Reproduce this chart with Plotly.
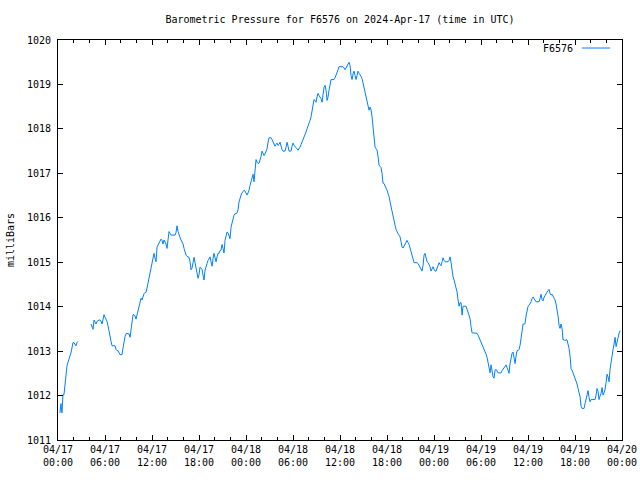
import plotly.graph_objects as go
from datetime import datetime, timedelta

TITLE = "Barometric Pressure for F6576 on 2024-Apr-17 (time in UTC)"
SERIES_NAME = "F6576"
Y_LABEL = "milliBars"
X_START = "2024-04-17 00:00"
X_END = "2024-04-20 00:00"
X_TICK_LABELS = ["04/17<br>00:00", "04/17<br>06:00", "04/17<br>12:00", "04/17<br>18:00",
                 "04/18<br>00:00", "04/18<br>06:00", "04/18<br>12:00", "04/18<br>18:00",
                 "04/19<br>00:00", "04/19<br>06:00", "04/19<br>12:00", "04/19<br>18:00",
                 "04/20<br>00:00"]
Y_TICKS = [1011, 1012, 1013, 1014, 1015, 1016, 1017, 1018, 1019, 1020]

# sampling interval of the station (minutes)
SAMPLE_MINUTES = 7.66

seg1_start = "2024-04-17 00:15"
seg1_values = [1011.61, 1011.82, 1011.61, 1012.02, 1012.02, 1012.28, 1012.47, 1012.66, 1012.75, 1012.81,
               1012.88, 1012.96, 1013.07, 1013.19, 1013.19, 1013.14, 1013.12, 1013.19, 1013.22]

seg2_start = "2024-04-17 04:13"
seg2_values = [
    1013.61, 1013.55, 1013.49, 1013.70, 1013.63, 1013.61, 1013.67, 1013.69, 1013.70, 1013.70,
    1013.68, 1013.61, 1013.74, 1013.82, 1013.76, 1013.72, 1013.67, 1013.57, 1013.48, 1013.34,
    1013.22, 1013.12, 1013.12, 1013.12, 1013.12, 1013.04, 1013.01, 1013.01, 1012.97, 1012.92,
    1012.92, 1012.92, 1013.07, 1013.22, 1013.33, 1013.39, 1013.40, 1013.39, 1013.39, 1013.31,
    1013.48, 1013.70, 1013.82, 1013.82, 1013.79, 1013.72, 1013.82, 1013.94, 1013.99, 1014.14,
    1014.19, 1014.15, 1014.23, 1014.29, 1014.32, 1014.32, 1014.42, 1014.53, 1014.64, 1014.75,
    1014.87, 1015.04, 1015.16, 1015.20, 1015.09, 1015.01, 1015.34, 1015.39, 1015.43, 1015.46,
    1015.52, 1015.49, 1015.41, 1015.50, 1015.46, 1015.41, 1015.31, 1015.50, 1015.69, 1015.65,
    1015.61, 1015.61, 1015.61, 1015.61, 1015.61, 1015.67, 1015.82, 1015.69, 1015.59, 1015.56,
    1015.50, 1015.46, 1015.41, 1015.31, 1015.22, 1015.16, 1015.13, 1015.11, 1015.11, 1015.01,
    1014.83, 1014.87, 1014.98, 1015.11, 1014.99, 1014.87, 1014.75, 1014.64, 1014.72,
    1014.89, 1014.86, 1014.84, 1014.71, 1014.60, 1014.82, 1014.93, 1014.97, 1015.04, 1015.08,
    1015.12, 1015.01, 1014.91, 1015.08, 1015.20, 1015.10, 1015.01, 1015.12, 1015.20, 1015.20,
    1015.26, 1015.27, 1015.40, 1015.31, 1015.21, 1015.49, 1015.64, 1015.68, 1015.66, 1015.61,
    1015.53, 1015.79, 1015.91, 1015.98, 1016.06, 1016.09, 1016.09, 1016.11, 1016.18, 1016.36,
    1016.45, 1016.51, 1016.56, 1016.60, 1016.62, 1016.60, 1016.56, 1016.51, 1016.56, 1016.62,
    1016.73, 1016.84, 1016.93, 1016.98, 1016.81, 1017.18, 1017.31, 1017.25, 1017.22, 1017.23,
    1017.29, 1017.38, 1017.50, 1017.43, 1017.40, 1017.44, 1017.48, 1017.55, 1017.70, 1017.80,
    1017.80, 1017.80, 1017.76, 1017.70, 1017.63, 1017.61, 1017.65, 1017.68, 1017.63, 1017.65,
    1017.70, 1017.59, 1017.53, 1017.50, 1017.50, 1017.50, 1017.59, 1017.70, 1017.61, 1017.50,
    1017.50, 1017.50, 1017.61, 1017.68, 1017.63, 1017.61, 1017.58, 1017.55, 1017.52, 1017.55,
    1017.59, 1017.65, 1017.70, 1017.76, 1017.80, 1017.88, 1017.93, 1018.00, 1018.06, 1018.10,
    1018.19, 1018.27, 1018.38, 1018.53, 1018.66, 1018.64, 1018.60, 1018.72, 1018.80, 1018.75,
    1018.72, 1018.68, 1018.60, 1018.79, 1018.94, 1018.98, 1018.87, 1018.64, 1018.72, 1018.87,
    1019.02, 1019.11, 1019.11, 1019.11, 1019.11, 1019.15, 1019.20, 1019.28, 1019.33, 1019.40,
    1019.40, 1019.40, 1019.40, 1019.40, 1019.37, 1019.33, 1019.37, 1019.43, 1019.46, 1019.50,
    1019.43, 1019.20, 1019.11, 1019.24, 1019.30, 1019.20, 1019.11, 1019.20, 1019.30, 1019.25,
    1019.22, 1019.18, 1019.13, 1019.02, 1018.90, 1018.83, 1018.75, 1018.62, 1018.49, 1018.42,
    1018.49, 1018.43, 1018.27, 1017.97, 1017.73, 1017.59, 1017.55, 1017.53, 1017.37, 1017.18,
    1017.16, 1017.13, 1016.99, 1016.78, 1016.77, 1016.73, 1016.69, 1016.62, 1016.54, 1016.48,
    1016.36, 1016.24, 1016.17, 1016.06, 1015.94, 1015.83, 1015.74, 1015.68, 1015.64, 1015.61,
    1015.57, 1015.46, 1015.34, 1015.32, 1015.37, 1015.42, 1015.46, 1015.49, 1015.44, 1015.40,
    1015.32, 1015.23, 1015.12, 1015.04, 1014.99, 1014.99, 1014.99, 1014.99, 1014.97, 1014.92,
    1014.87, 1014.84, 1014.80, 1014.93, 1015.16, 1015.20, 1015.10, 1015.01, 1014.99, 1014.95,
    1014.90, 1014.80, 1014.84, 1014.90, 1014.84, 1014.80, 1014.80, 1014.86, 1014.92, 1014.99,
    1014.95, 1014.92, 1015.01, 1015.10, 1015.04, 1015.01, 1015.01, 1015.01, 1015.01, 1015.04,
    1015.12, 1014.99, 1014.78, 1014.67, 1014.60, 1014.52,
    1014.41, 1014.33, 1014.15, 1014.01, 1014.09, 1014.09, 1013.81, 1014.01, 1014.01, 1014.01,
    1014.01, 1013.94, 1013.86, 1013.77,
    1013.73, 1013.55, 1013.41, 1013.41, 1013.41, 1013.41, 1013.41, 1013.40, 1013.36, 1013.31,
    1013.26, 1013.21, 1013.16, 1013.10, 1013.04, 1012.98, 1012.93, 1012.86, 1012.74, 1012.63,
    1012.51, 1012.69, 1012.50, 1012.42, 1012.39, 1012.57, 1012.59, 1012.54, 1012.51, 1012.51,
    1012.51, 1012.51, 1012.56, 1012.59, 1012.63, 1012.66, 1012.69, 1012.63, 1012.57, 1012.50,
    1012.72, 1012.86, 1012.95, 1012.98, 1012.87, 1012.72, 1012.89, 1013.01, 1013.01, 1013.04,
    1013.13, 1013.29, 1013.47, 1013.61, 1013.61, 1013.62, 1013.79, 1013.94, 1014.01, 1014.03,
    1014.06, 1014.11, 1014.18, 1014.22, 1014.18, 1014.15, 1014.11, 1014.11, 1014.11, 1014.11,
    1014.18, 1014.28, 1014.16, 1014.13, 1014.21, 1014.26, 1014.30, 1014.33, 1014.36, 1014.39,
    1014.30, 1014.26, 1014.28, 1014.24, 1014.18, 1014.15, 1014.06, 1013.96, 1013.79, 1013.58,
    1013.51, 1013.61, 1013.51, 1013.25, 1013.26, 1013.23, 1013.26, 1013.25, 1013.16, 1013.06,
    1012.89, 1012.61, 1012.57, 1012.51, 1012.46, 1012.41, 1012.35, 1012.26, 1012.16, 1012.09,
    1011.97, 1011.76, 1011.71, 1011.71, 1011.71, 1011.82, 1011.90, 1012.01, 1012.11, 1011.96,
    1011.86, 1011.91, 1011.91, 1011.91, 1011.91, 1011.91, 1012.01, 1012.16, 1012.09, 1011.91,
    1011.99, 1012.05, 1012.18, 1012.01, 1012.06, 1012.14, 1012.29, 1012.48, 1012.42, 1012.31,
    1012.59, 1012.78, 1012.91, 1013.04, 1013.16, 1013.31, 1013.10, 1013.21, 1013.36, 1013.40,
    1013.46,
]

FMT = "%Y-%m-%d %H:%M"


def times_for(start, n):
    t0 = datetime.strptime(start, FMT)
    return [t0 + timedelta(minutes=i * SAMPLE_MINUTES) for i in range(n)]


x = times_for(seg1_start, len(seg1_values)) + [None] + times_for(seg2_start, len(seg2_values))
y = seg1_values + [None] + seg2_values

t_start = datetime.strptime(X_START, FMT)
t_end = datetime.strptime(X_END, FMT)
tickvals = [t_start + timedelta(hours=6 * i) for i in range(len(X_TICK_LABELS))]

LINE_COLOR = "#0080ff"
FONT = "DejaVu Sans Mono"

fig = go.Figure()
fig.add_trace(go.Scatter(x=x, y=y, mode="lines", name=SERIES_NAME,
                         line=dict(color=LINE_COLOR, width=1), connectgaps=False,
                         showlegend=False))

fig.update_layout(
    width=640, height=480,
    margin=dict(l=58, r=18, t=40, b=40, pad=0, autoexpand=False),
    paper_bgcolor="white", plot_bgcolor="white",
    font=dict(family=FONT, size=10, color="black"),
    title=dict(text=TITLE, x=0.5, xref="paper", xanchor="center",
               y=1 - 19 / 480, yref="container", yanchor="middle",
               font=dict(family=FONT, size=10, color="black")),
    xaxis=dict(range=[t_start, t_end], tickmode="array", tickvals=tickvals, ticktext=X_TICK_LABELS,
               ticks="inside", ticklen=5, tickwidth=1, tickcolor="black",
               showline=True, linecolor="black", linewidth=1, mirror="ticks",
               showgrid=False, zeroline=False, automargin=False,
               minor=dict(ticks="inside", ticklen=3, tickwidth=1, tickcolor="black",
                          tickmode="linear", tick0=t_start, dtick=2 * 3600000, showgrid=False)),
    yaxis=dict(range=[Y_TICKS[0], Y_TICKS[-1]], tickmode="array", tickvals=Y_TICKS,
               ticks="inside", ticklen=5, tickwidth=1, tickcolor="black",
               showline=True, linecolor="black", linewidth=1, mirror="ticks",
               showgrid=False, zeroline=False, ticklabelstandoff=4, automargin=False,
               title=dict(text=Y_LABEL, standoff=10, font=dict(family=FONT, size=10))),
    showlegend=False,
)

# gnuplot-style key: label followed by line sample, top right inside the plot
fig.add_annotation(text=SERIES_NAME, xref="paper", yref="paper",
                   x=(575 - 58) / 564, y=(440 - 48) / 400, xanchor="right", yanchor="middle",
                   showarrow=False, font=dict(family=FONT, size=10, color="black"))
fig.add_shape(type="line", xref="paper", yref="paper",
              x0=(582 - 58) / 564, x1=(610 - 58) / 564,
              y0=(440 - 48) / 400, y1=(440 - 48) / 400,
              line=dict(color=LINE_COLOR, width=1))

fig.write_html("out.html")
